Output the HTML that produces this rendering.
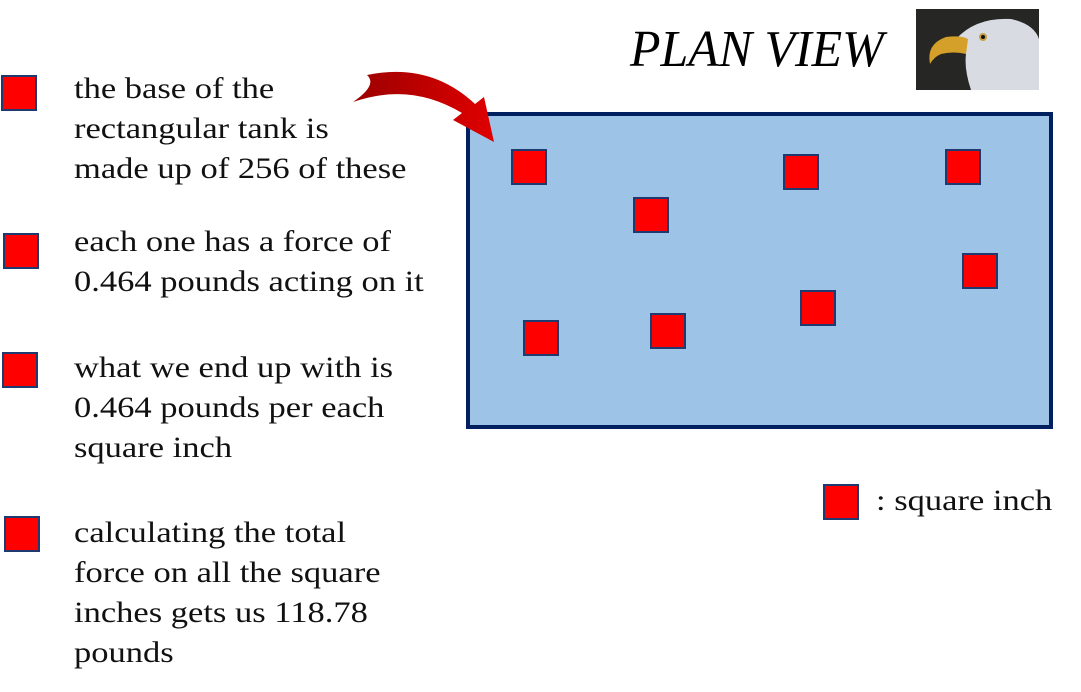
<!DOCTYPE html>
<html><head><meta charset="utf-8"><style>
body{margin:0;width:1081px;height:692px;background:#fff;position:relative;overflow:hidden;font-family:"Liberation Serif",serif;}
.sq{position:absolute;width:32px;height:32px;background:#ff0000;border:2px solid #1f3a70;}
.t{position:absolute;left:74px;font-size:30px;line-height:40px;color:#111;white-space:nowrap;transform:scaleX(1.15);transform-origin:left top;}
</style></head><body>
<div class="sq" style="left:1px;top:75px"></div>
<div class="sq" style="left:3px;top:233px"></div>
<div class="sq" style="left:2px;top:352px"></div>
<div class="sq" style="left:4px;top:516px"></div>
<div class="t" style="top:69px">the base of the<br>rectangular tank is<br>made up of 256 of these</div>
<div class="t" style="top:222px">each one has a force of<br>0.464 pounds acting on it</div>
<div class="t" style="top:348px">what we end up with is<br>0.464 pounds per each<br>square inch</div>
<div class="t" style="top:513px">calculating the total<br>force on all the square<br>inches gets us 118.78<br>pounds</div>
<div style="position:absolute;left:630px;top:20px;font-size:52px;font-style:italic;transform:scaleX(0.96);transform-origin:left;">PLAN VIEW</div>
<svg style="position:absolute;left:916px;top:9px" width="123" height="81">
<rect width="123" height="81" fill="#262624"/>
<path d="M40,30 Q60,8 95,10 Q118,15 123,30 L123,81 L55,81 Q48,60 50,45 Z" fill="#d8dce2"/>
<path d="M14,55 Q10,35 30,28 Q45,26 52,30 L50,45 Q38,42 25,45 Q18,48 14,55 Z" fill="#d4a02a"/>
<circle cx="67" cy="28" r="4" fill="#c8a040"/><circle cx="67" cy="28" r="2" fill="#111"/>
</svg>
<svg style="position:absolute;left:0;top:0" width="1081" height="692">
<defs><linearGradient id="a" x1="0" x2="1"><stop offset="0" stop-color="#9b0000"/><stop offset="1" stop-color="#e00000"/></linearGradient></defs>
<rect x="468" y="114" width="583" height="313" fill="#9dc3e6" stroke="#002060" stroke-width="4"/>
<path d="M353,102 Q378,85 367,75 Q430,62 475,104 L484,97 L494,142 L453,120 L462,113 Q410,82 353,102 Z" fill="url(#a)"/>
</svg>
<div class="sq" style="left:511px;top:149px"></div>
<div class="sq" style="left:633px;top:197px"></div>
<div class="sq" style="left:783px;top:154px"></div>
<div class="sq" style="left:945px;top:149px"></div>
<div class="sq" style="left:962px;top:253px"></div>
<div class="sq" style="left:800px;top:290px"></div>
<div class="sq" style="left:650px;top:313px"></div>
<div class="sq" style="left:523px;top:320px"></div>
<div class="sq" style="left:823px;top:484px"></div>
<div class="t" style="left:876px;top:481px">: square inch</div>
</body></html>
